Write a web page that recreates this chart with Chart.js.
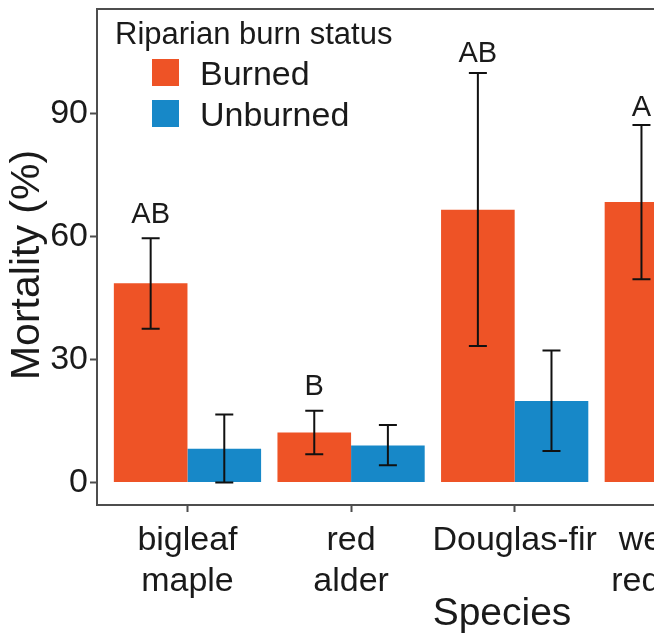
<!DOCTYPE html>
<html>
<head>
<meta charset="utf-8">
<script src="https://cdn.jsdelivr.net/npm/chart.js@4.4.1/dist/chart.umd.min.js"></script>
<style>
  html, body { margin: 0; padding: 0; overflow: hidden; background: #ffffff; }
  #wrap { width: 920px; height: 639px; }
  canvas { display: block; }
</style>
</head>
<body>
<div id="wrap"><canvas id="chart" width="920" height="639"></canvas></div>
<script>
// Tree mortality by species and riparian burn status (mean with interval)
const species = [["bigleaf", "maple"], ["red", "alder"], ["Douglas-fir"], ["western", "redcedar"]];

const burnedMean  = [48.6, 12.2, 66.5, 68.4];
const burnedLower = [37.5,  6.9, 33.3, 49.6];
const burnedUpper = [59.6, 17.5, 99.9, 87.2];

const unburnedMean  = [8.2, 9.0, 19.9, null];
const unburnedLower = [0.0, 4.2,  7.7, null];
const unburnedUpper = [16.6, 14.0, 32.2, null];

// Significance letters over the burned bars, with the value their baseline sits at
const groupLetters = ["AB", "B", "AB", "A"];
const letterLevels = [63.2, 21.3, 102.5, 89.4];

const yTickValues = [0, 30, 60, 90];
const yTitle = 'Mortality (%)';

const FONT = '"Liberation Sans", Arial, Helvetica, sans-serif';
const TEXT = '#1a1a1a';
const LINE = '#4d4d4d';

// Full box round the plotting panel
const panelFrame = {
  id: 'panelFrame',
  afterDraw(chart) {
    const { ctx, chartArea: a } = chart;
    ctx.save();
    ctx.strokeStyle = LINE;
    ctx.lineWidth = 2;
    ctx.strokeRect(a.left, a.top, a.right - a.left, a.bottom - a.top);
    ctx.restore();
  }
};

// Rotated y-axis title, set slightly below the panel's middle
const yAxisTitle = {
  id: 'yAxisTitle',
  afterDraw(chart) {
    const { ctx, chartArea: a } = chart;
    ctx.save();
    ctx.translate(27.5, (a.top + a.bottom) / 2 + 8);
    ctx.rotate(-Math.PI / 2);
    ctx.fillStyle = TEXT;
    ctx.font = '41px ' + FONT;
    ctx.textAlign = 'center';
    ctx.textBaseline = 'middle';
    ctx.fillText(yTitle, 0, 0);
    ctx.restore();
  }
};

// Vertical interval bars with caps, centred on every bar
const errorBars = {
  id: 'errorBars',
  afterDatasetsDraw(chart) {
    const { ctx } = chart;
    const yScale = chart.scales.y;
    const cap = 9;
    ctx.save();
    ctx.strokeStyle = '#111111';
    ctx.lineWidth = 2;
    chart.data.datasets.forEach((ds, d) => {
      const meta = chart.getDatasetMeta(d);
      meta.data.forEach((bar, i) => {
        const lo = ds.errLow[i], hi = ds.errHigh[i];
        if (lo == null || hi == null) return;
        const yl = yScale.getPixelForValue(lo);
        const yh = yScale.getPixelForValue(hi);
        ctx.beginPath();
        ctx.moveTo(bar.x, yl); ctx.lineTo(bar.x, yh);
        ctx.moveTo(bar.x - cap, yl); ctx.lineTo(bar.x + cap, yl);
        ctx.moveTo(bar.x - cap, yh); ctx.lineTo(bar.x + cap, yh);
        ctx.stroke();
      });
    });
    ctx.restore();
  }
};

// Letters above the burned bars
const letters = {
  id: 'letters',
  afterDatasetsDraw(chart) {
    const { ctx } = chart;
    const yScale = chart.scales.y;
    const meta = chart.getDatasetMeta(0);
    ctx.save();
    ctx.fillStyle = TEXT;
    ctx.font = '29px ' + FONT;
    ctx.textAlign = 'center';
    ctx.textBaseline = 'alphabetic';
    meta.data.forEach((bar, i) => {
      if (!groupLetters[i]) return;
      ctx.fillText(groupLetters[i], bar.x, yScale.getPixelForValue(letterLevels[i]));
    });
    ctx.restore();
  }
};

// Legend drawn inside the panel, top left
const insetLegend = {
  id: 'insetLegend',
  afterDraw(chart) {
    const { ctx, chartArea: a } = chart;
    ctx.save();
    ctx.fillStyle = TEXT;
    ctx.textAlign = 'left';
    ctx.textBaseline = 'alphabetic';
    ctx.font = '31px ' + FONT;
    ctx.fillText('Riparian burn status', a.left + 18, a.top + 35);
    ctx.font = '34px ' + FONT;
    chart.data.datasets.forEach((ds, d) => {
      const top = a.top + 50 + d * 41;
      ctx.fillStyle = ds.backgroundColor;
      ctx.fillRect(a.left + 55, top, 27, 27);
      ctx.fillStyle = TEXT;
      ctx.fillText(ds.label, a.left + 103, top + 26);
    });
    ctx.restore();
  }
};

new Chart(document.getElementById('chart'), {
  type: 'bar',
  data: {
    datasets: [
      {
        label: 'Burned',
        data: burnedMean.map((v, i) => ({ x: i, y: v })),
        backgroundColor: '#EE5326',
        errLow: burnedLower,
        errHigh: burnedUpper
      },
      {
        label: 'Unburned',
        data: unburnedMean.map((v, i) => ({ x: i, y: v })),
        backgroundColor: '#1788C8',
        errLow: unburnedLower,
        errHigh: unburnedUpper
      }
    ]
  },
  options: {
    responsive: false,
    animation: false,
    devicePixelRatio: 1,
    categoryPercentage: 0.9,
    barPercentage: 1.0,
    layout: { padding: { top: 9, right: 13, left: 0, bottom: 0 } },
    plugins: {
      legend: { display: false },
      tooltip: { enabled: false }
    },
    scales: {
      x: {
        type: 'linear',
        min: -0.553,
        max: 4.398,
        offset: false,
        border: { display: false },
        grid: { offset: false, drawOnChartArea: false, drawTicks: true, tickLength: 7, tickWidth: 2, tickColor: LINE },
        ticks: {
          stepSize: 1,
          includeBounds: false,
          autoSkip: false,
          maxRotation: 0,
          padding: 9,
          color: TEXT,
          font: { family: FONT, size: 34, lineHeight: 1.18 },
          callback: (v) => species[v] || ''
        },
        title: {
          display: true,
          text: 'Species',
          color: TEXT,
          font: { family: FONT, size: 39 },
          padding: { top: 0, bottom: 1 }
        },
        afterFit(scale) {
          scale.height = 134;
          scale.paddingLeft = 0;
          scale.paddingRight = 0;
        }
      },
      y: {
        min: -5.5,
        max: 115.5,
        border: { display: false },
        grid: { drawOnChartArea: false, drawTicks: true, tickLength: 7, tickWidth: 2, tickColor: LINE },
        afterBuildTicks(scale) { scale.ticks = yTickValues.map(v => ({ value: v })); },
        ticks: {
          padding: 2,
          color: TEXT,
          font: { family: FONT, size: 34 }
        },
        title: { display: false },
        afterFit(scale) {
          scale.width = 97;
          scale.paddingTop = 0;
          scale.paddingBottom = 0;
        }
      }
    }
  },
  plugins: [errorBars, letters, insetLegend, panelFrame, yAxisTitle]
});
</script>
</body>
</html>
